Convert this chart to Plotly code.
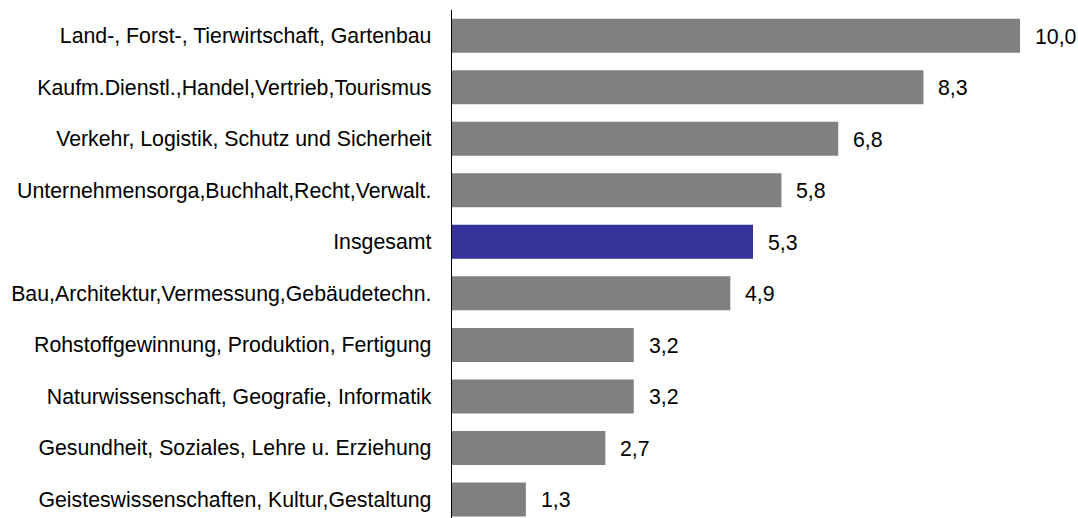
import plotly.graph_objects as go

categories = [
    "Land-, Forst-, Tierwirtschaft, Gartenbau",
    "Kaufm.Dienstl.,Handel,Vertrieb,Tourismus",
    "Verkehr, Logistik, Schutz und Sicherheit",
    "Unternehmensorga,Buchhalt,Recht,Verwalt.",
    "Insgesamt",
    "Bau,Architektur,Vermessung,Gebäudetechn.",
    "Rohstoffgewinnung, Produktion, Fertigung",
    "Naturwissenschaft, Geografie, Informatik",
    "Gesundheit, Soziales, Lehre u. Erziehung",
    "Geisteswissenschaften, Kultur,Gestaltung",
]
values = [10.0, 8.3, 6.8, 5.8, 5.3, 4.9, 3.2, 3.2, 2.7, 1.3]

GRAY = "#808080"
BLUE = "#333399"
FONT = "Liberation Sans, Arial"
FS = 21.3
colors = [BLUE if c == "Insgesamt" else GRAY for c in categories]
labels = [f"{v:.1f}".replace(".", ",") for v in values]

fig = go.Figure()
fig.add_trace(go.Bar(
    y=categories, x=values, orientation="h",
    marker=dict(color=colors, line=dict(width=0)),
    hoverinfo="skip",
))

for c, v, t in zip(categories, values, labels):
    fig.add_annotation(x=v, y=c, text=t, showarrow=False, xanchor="left",
                       yanchor="middle", xshift=13, yshift=-1,
                       font=dict(family=FONT, size=FS, color="#000000"))

W, H = 1078, 518
left, right, top, bottom = 452, 20, 10, 0
px_per_unit = 56.8
xmax = (W - left - right) / px_per_unit
band = 51.52
yspan = (H - top - bottom) / band

fig.update_layout(
    width=W, height=H,
    margin=dict(l=left, r=right, t=top, b=bottom, pad=0),
    paper_bgcolor="white", plot_bgcolor="white",
    showlegend=False,
    bargap=0.34,
    font=dict(family=FONT, size=FS, color="#000000"),
    xaxis=dict(range=[0, xmax], visible=False, showgrid=False, zeroline=False),
    yaxis=dict(
        categoryorder="array", categoryarray=categories,
        range=[-0.5 + yspan, -0.5],
        showline=True, linecolor="#000000", linewidth=1.3,
        ticks="", showgrid=False, zeroline=False,
        ticklabelstandoff=15, automargin=False,
        tickfont=dict(family=FONT, size=FS, color="#000000"),
    ),
)

fig.write_html(
    "out.html",
    config={"displayModeBar": False, "staticPlot": True},
    post_script="document.body.style.margin='0';document.body.style.overflow='hidden';",
)
